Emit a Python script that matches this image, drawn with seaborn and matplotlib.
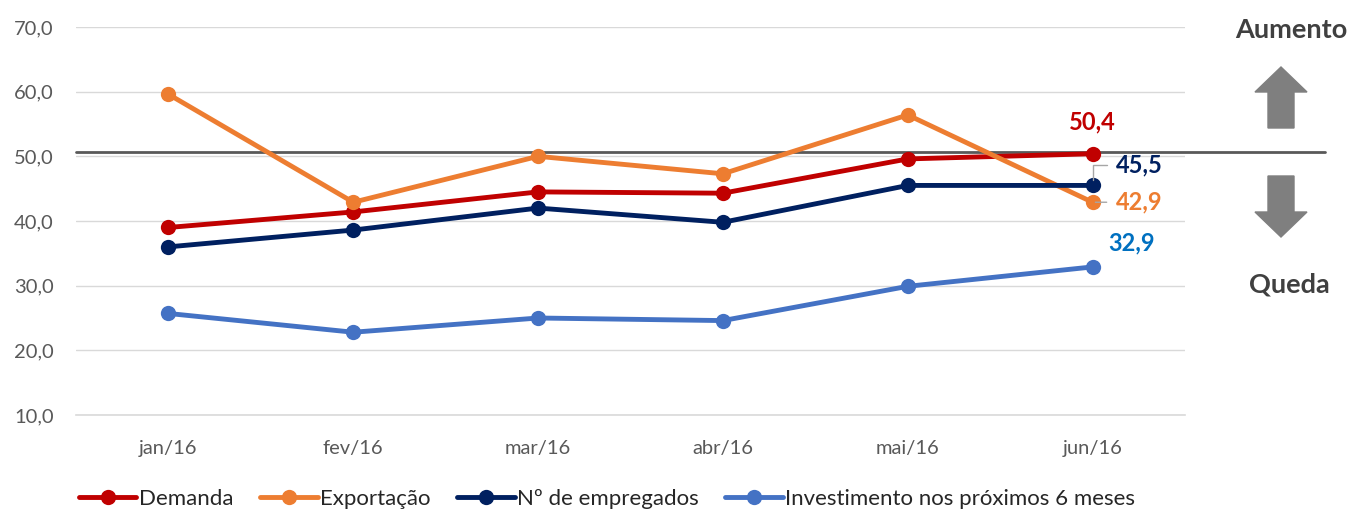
import numpy as np
import pandas as pd
import seaborn as sns
from matplotlib import pyplot as plt
from matplotlib.patches import FancyArrow

meses = ["jan/16", "fev/16", "mar/16", "abr/16", "mai/16", "jun/16"]
demanda = [39.0, 41.4, 44.5, 44.3, 49.6, 50.4]
exportacao = [59.6, 42.9, 50.0, 47.3, 56.4, 42.9]
empregados = [36.0, 38.6, 42.0, 39.8, 45.5, 45.5]
investimento = [25.7, 22.8, 25.0, 24.6, 29.9, 32.9]
linha_ref = 50.6

series = ["Demanda", "Exportação", "Nº de empregados", "Investimento nos próximos 6 meses"]
cores = ["#C00000", "#ED7D31", "#002060", "#4472C4"]
cores_rotulo = ["#C00000", "#ED7D31", "#002060", "#0070C0"]

sns.set_style("white")
plt.rcParams['font.family'] = ['Lato', 'DejaVu Sans']

df = pd.DataFrame({"mes": meses * 4,
                   "valor": demanda + exportacao + empregados + investimento,
                   "serie": np.repeat(series, len(meses))})

fig = plt.figure(figsize=(13.5, 5.09), dpi=100)
ax = fig.add_axes([76 / 1350, 1 - 415 / 509, (1185 - 76) / 1350, (415 - 27) / 509])

g = sns.lineplot(data=df, x="mes", y="valor", hue="serie", palette=cores,
                 marker="o", markersize=11, markeredgewidth=0, linewidth=3.5,
                 sort=False, ax=ax, zorder=3)

ax.set_ylim(10, 70)
ax.set_xlim(-0.5, 5.5)
ax.set_yticks(range(10, 71, 10))
ax.set_yticklabels([f"{v},0" for v in range(10, 71, 10)])
ax.yaxis.grid(True, color="#D9D9D9", linewidth=1)
ax.set_axisbelow(True)
ax.set_xlabel("")
ax.set_ylabel("")
for s in ["left", "right", "top"]:
    ax.spines[s].set_visible(False)
ax.spines["bottom"].set_color("#D9D9D9")
ax.spines["bottom"].set_linewidth(1.2)
ax.set_xticks(np.arange(-0.5, 6, 1), minor=True)
ax.tick_params(axis="x", which="major", length=0, pad=18, labelsize=14.5, labelcolor="#595959")
ax.tick_params(axis="x", which="minor", length=7, color="#D9D9D9", width=1.2)
ax.tick_params(axis="y", length=0, pad=16, labelsize=14.5, labelcolor="#595959")

# linha de referência
ax.axhline(linha_ref, xmin=0, xmax=(1325 - 76) / (1185 - 76), color="#595959",
           linewidth=2, clip_on=False, zorder=2)

# rótulos do último mês
ult = len(meses) - 1
fmt = lambda v: f"{v:.1f}".replace(".", ",")
ax.annotate(fmt(demanda[-1]), (ult, demanda[-1]), xytext=(0, 23),
            textcoords="offset points", ha="center", va="center", fontsize=17,
            fontweight="bold", color=cores_rotulo[0])
ax.annotate(fmt(empregados[-1]), (ult, empregados[-1]), xytext=(16.5, 15),
            textcoords="offset points", ha="left", va="center", fontsize=17,
            fontweight="bold", color=cores_rotulo[2],
            arrowprops=dict(arrowstyle="-", color="#A6A6A6", lw=1,
                            connectionstyle="angle,angleA=0,angleB=90,rad=0",
                            shrinkA=4, shrinkB=4))
ax.annotate(fmt(exportacao[-1]), (ult, exportacao[-1]), xytext=(16.5, 0),
            textcoords="offset points", ha="left", va="center", fontsize=17,
            fontweight="bold", color=cores_rotulo[1],
            arrowprops=dict(arrowstyle="-", color="#A6A6A6", lw=1, shrinkA=4, shrinkB=2))
ax.annotate(fmt(investimento[-1]), (ult, investimento[-1]), xytext=(11.5, 17),
            textcoords="offset points", ha="left", va="center", fontsize=17,
            fontweight="bold", color=cores_rotulo[3])

# setas e textos laterais
fig.text(1291 / 1350, 1 - 30 / 509, "Aumento", ha="center", va="center",
         fontsize=19.5, fontweight="bold", color="#404040")
fig.text(1289 / 1350, 1 - 284 / 509, "Queda", ha="center", va="center",
         fontsize=19.5, fontweight="bold", color="#404040")
fig.patches.append(FancyArrow(1281 / 1350, 1 - 128 / 509, 0, 61 / 509, width=26 / 1350,
                              head_width=52 / 1350, head_length=25 / 509,
                              length_includes_head=True, color="#7F7F7F",
                              transform=fig.transFigure, figure=fig))
fig.patches.append(FancyArrow(1281 / 1350, 1 - 176 / 509, 0, -61 / 509, width=26 / 1350,
                              head_width=52 / 1350, head_length=25 / 509,
                              length_includes_head=True, color="#7F7F7F",
                              transform=fig.transFigure, figure=fig))

leg = ax.legend(loc="center", bbox_to_anchor=(607 / 1350, 1 - 499 / 509),
                bbox_transform=fig.transFigure, ncol=4, frameon=False, fontsize=16,
                handlelength=2.6, handletextpad=0.1, columnspacing=1.2, borderpad=0)

fig.savefig("out.png", dpi=100)
